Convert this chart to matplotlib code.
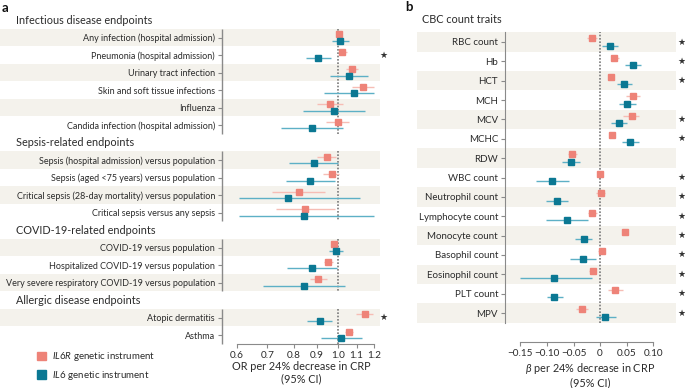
import matplotlib.pyplot as plt
from matplotlib.patches import Patch
from matplotlib.ticker import NullLocator
from matplotlib.transforms import blended_transform_factory

plt.rcParams['font.family'] = ['Lato', 'DejaVu Sans']
plt.rcParams['mathtext.fontset'] = 'custom'
plt.rcParams['mathtext.it'] = 'Lato:italic'
plt.rcParams['mathtext.rm'] = 'Lato'

# ---- data, panel a (odds ratios) ----
groups_a = ["Infectious disease endpoints", "Sepsis-related endpoints",
            "COVID-19-related endpoints", "Allergic disease endpoints"]
labels_a = [
    ["Any infection (hospital admission)", "Pneumonia (hospital admission)",
     "Urinary tract infection", "Skin and soft tissue infections", "Influenza",
     "Candida infection (hospital admission)"],
    ["Sepsis (hospital admission) versus population", "Sepsis (aged <75 years) versus population",
     "Critical sepsis (28-day mortality) versus population", "Critical sepsis versus any sepsis"],
    ["COVID-19 versus population", "Hospitalized COVID-19 versus population",
     "Very severe respiratory COVID-19 versus population"],
    ["Atopic dermatitis", "Asthma"],
]
il6r_or = [1.007, 1.024, 1.077, 1.138, 0.962, 1.000,
           0.947, 0.969, 0.820, 0.849,
           0.983, 0.954, 0.907,
           1.146, 1.061]
il6r_lo = [0.990, 1.005, 1.040, 1.075, 0.902, 0.944,
           0.902, 0.926, 0.717, 0.733,
           0.970, 0.933, 0.867,
           1.097, 1.038]
il6r_hi = [1.024, 1.046, 1.110, 1.199, 1.026, 1.061,
           0.992, 1.008, 0.938, 0.987,
           0.995, 0.978, 0.949,
           1.197, 1.082]
il6_or = [1.013, 0.907, 1.059, 1.084, 0.982, 0.880,
          0.889, 0.870, 0.779, 0.841,
          0.992, 0.880, 0.842,
          0.913, 1.019]
il6_lo = [0.970, 0.852, 0.962, 0.933, 0.839, 0.751,
          0.783, 0.770, 0.608, 0.608,
          0.956, 0.773, 0.684,
          0.858, 0.919]
il6_hi = [1.060, 0.965, 1.163, 1.199, 1.150, 1.029,
          1.003, 0.985, 1.117, 1.199,
          1.029, 0.998, 1.038,
          0.972, 1.130]
star_a = [False, True, False, False, False, False,
          False, False, False, False,
          False, False, False,
          True, False]
xticks_a = [0.6, 0.7, 0.8, 0.9, 1.0, 1.1, 1.2]
xticklabels_a = ["0.6", "0.7", "0.8", "0.9", "1.0", "1.1", "1.2"]

# ---- data, panel b (beta) ----
labels_b = ["RBC count", "Hb", "HCT", "MCH", "MCV", "MCHC", "RDW", "WBC count",
            "Neutrophil count", "Lymphocyte count", "Monocyte count", "Basophil count",
            "Eosinophil count", "PLT count", "MPV"]
il6r_b = [-0.016, 0.027, 0.021, 0.062, 0.060, 0.023, -0.052, 0.000,
          0.001, -0.015, 0.047, 0.003, -0.014, 0.029, -0.034]
il6r_b_lo = [-0.025, 0.020, 0.016, 0.048, 0.044, 0.017, -0.060, -0.005,
             -0.008, -0.022, 0.041, -0.003, -0.020, 0.015, -0.045]
il6r_b_hi = [-0.006, 0.035, 0.026, 0.075, 0.074, 0.028, -0.044, 0.005,
             0.010, -0.006, 0.053, 0.009, -0.008, 0.043, -0.023]
il6_b = [0.019, 0.062, 0.045, 0.051, 0.036, 0.057, -0.055, -0.090,
         -0.081, -0.062, -0.031, -0.033, -0.086, -0.086, 0.010]
il6_b_lo = [0.004, 0.047, 0.031, 0.035, 0.021, 0.042, -0.072, -0.121,
            -0.102, -0.101, -0.047, -0.057, -0.151, -0.099, -0.008]
il6_b_hi = [0.033, 0.077, 0.060, 0.067, 0.051, 0.074, -0.038, -0.059,
            -0.060, -0.022, -0.015, -0.008, -0.015, -0.070, 0.030]
star_b = [True, True, True, False, True, True, False, True,
          True, True, True, True, True, True, True]
xticks_b = [-0.15, -0.10, -0.05, 0, 0.05, 0.10]
xticklabels_b = ["\u22120.15", "\u22120.10", "\u22120.05", "0", "0.05", "0.10"]

# ---- style ----
c_r, c_r_line = '#ee8378', '#f6bdb5'
c_6, c_6_line = '#0b7893', '#5db0c6'
band = '#f4f2ec'
spine_c = '#8a8a8a'
txt_c = '#2b2b2b'
off = 0.19

W, H = 685, 388
fig = plt.figure(figsize=(W / 100, H / 100), dpi=100)


def px_axes(l, t, r, b):
    return fig.add_axes([l / W, 1 - b / H, (r - l) / W, (b - t) / H])


def draw_rows(ax, ys, a, alo, ahi, b, blo, bhi, ms=3.8):
    for y, v, lo, hi in zip(ys, a, alo, ahi):
        ax.hlines(y - off, lo, hi, color=c_r_line, lw=1.0, zorder=2)
        ax.plot(v, y - off, 's', color=c_r, ms=ms, zorder=3)
    for y, v, lo, hi in zip(ys, b, blo, bhi):
        ax.hlines(y + off, lo, hi, color=c_6_line, lw=1.0, zorder=2)
        ax.plot(v, y + off, 's', color=c_6, ms=ms, zorder=3)


# ================= panel a =================
axa = px_axes(222, 28.75, 380, 343.75)
rows_a, heads_a, spans_a = [], [], []
slot = 0
for g, labs in zip(groups_a, labels_a):
    heads_a.append(slot)
    slot += 1
    start = slot
    for i, lab in enumerate(labs):
        rows_a.append(slot)
        if i % 2 == 0:
            axa.axhspan(slot - 0.5, slot + 0.5, xmin=-222 / 158, xmax=1, color=band,
                        lw=0, zorder=0, clip_on=False)
        slot += 1
    spans_a.append((start, slot - 1))

axa.set_xscale('log')
xl_a = (0.557, 1.238)
axa.set_xlim(*xl_a)
axa.set_ylim(slot - 0.5, 0.5)
draw_rows(axa, rows_a, il6r_or, il6r_lo, il6r_hi, il6_or, il6_lo, il6_hi)

for s, e in spans_a:
    axa.vlines(xl_a[0], s - 0.5, e + 0.5, color=spine_c, lw=1.0, clip_on=False)
    axa.vlines(1.0, s - 0.5, e + 0.5, color='#7a7a7a', lw=1.2, linestyles=(0, (1, 1)), zorder=1)

tr_a = blended_transform_factory(fig.transFigure, axa.transData)
for g, y in zip(groups_a, heads_a):
    axa.text(16 / W, y, g, transform=tr_a, va='center', ha='left', fontsize=7.8, color=txt_c)
for y, s in zip(rows_a, star_a):
    if s:
        axa.text(383 / W, y, '\u2605', transform=tr_a, va='center', ha='center',
                 fontsize=6.5, color='#333333', family='DejaVu Sans')

axa.set_yticks(rows_a)
axa.set_yticklabels([l for labs in labels_a for l in labs])
axa.set_xticks(xticks_a)
axa.set_xticklabels(xticklabels_a)
axa.xaxis.set_minor_locator(NullLocator())
for sp in ['top', 'right', 'left']:
    axa.spines[sp].set_visible(False)
axa.spines['bottom'].set_bounds(0.6, 1.2)
axa.spines['bottom'].set_color(spine_c)
axa.tick_params(axis='y', length=3, color=spine_c, pad=2, labelsize=6.45, labelcolor=txt_c)
axa.tick_params(axis='x', length=3, color=spine_c, pad=2, labelsize=7.2, labelcolor=txt_c)
axa.set_xlabel("OR per 24% decrease in CRP\n(95% CI)", fontsize=7.8, color=txt_c, labelpad=1,
               linespacing=1.15)

# ================= panel b =================
axb = px_axes(505, 32.3, 676, 322.7)
rows_b = list(range(len(labels_b)))
for i, y in enumerate(rows_b):
    if i % 2 == 0:
        axb.axhspan(y - 0.5, y + 0.5, xmin=-88 / 171, xmax=1, color=band, lw=0,
                    zorder=0, clip_on=False)
xl_b = (-0.179, 0.143)
axb.set_xlim(*xl_b)
axb.set_ylim(len(labels_b) - 0.5, -0.5)
draw_rows(axb, rows_b, il6r_b, il6r_b_lo, il6r_b_hi, il6_b, il6_b_lo, il6_b_hi)
axb.axvline(0, color='#7a7a7a', lw=1.2, linestyle=(0, (1, 1)), zorder=1)

tr_b = blended_transform_factory(fig.transFigure, axb.transData)
axb.text(422 / W, -1.15, "CBC count traits", transform=tr_b, va='center', ha='left',
         fontsize=7.8, color=txt_c)
for y, s in zip(rows_b, star_b):
    if s:
        axb.text(681 / W, y, '\u2605', transform=tr_b, va='center', ha='center',
                 fontsize=6.5, color='#333333', family='DejaVu Sans')

axb.set_yticks(rows_b)
axb.set_yticklabels(labels_b)
axb.set_xticks(xticks_b)
axb.set_xticklabels(xticklabels_b)
for sp in ['top', 'right']:
    axb.spines[sp].set_visible(False)
axb.spines['left'].set_color(spine_c)
axb.spines['bottom'].set_color(spine_c)
axb.spines['bottom'].set_bounds(-0.15, 0.10)
axb.spines['bottom'].set_position(('outward', 14))
axb.tick_params(axis='y', length=3, color=spine_c, pad=2, labelsize=7.0, labelcolor=txt_c)
axb.tick_params(axis='x', length=3, color=spine_c, pad=2, labelsize=7.2, labelcolor=txt_c)
axb.set_xlabel("$\\beta$ per 24% decrease in CRP\n(95% CI)", fontsize=7.8, color=txt_c,
               labelpad=2, linespacing=1.15)

# ---- panel letters and legend ----
fig.text(2 / W, 1 - 8 / H, 'a', fontsize=9.5, weight='bold', va='center', color='#111111')
fig.text(405 / W, 1 - 7 / H, 'b', fontsize=9.5, weight='bold', va='center', color='#111111')
fig.legend(handles=[Patch(color=c_r), Patch(color=c_6)],
           labels=["$\\it{IL6R}$ genetic instrument", "$\\it{IL6}$ genetic instrument"],
           loc='center left', bbox_to_anchor=(28 / W, 1 - 366 / H), frameon=False,
           fontsize=7, handlelength=1.0, handleheight=1.0, labelspacing=0.55,
           handletextpad=0.6, labelcolor=txt_c)

fig.savefig('out.png', dpi=100)
